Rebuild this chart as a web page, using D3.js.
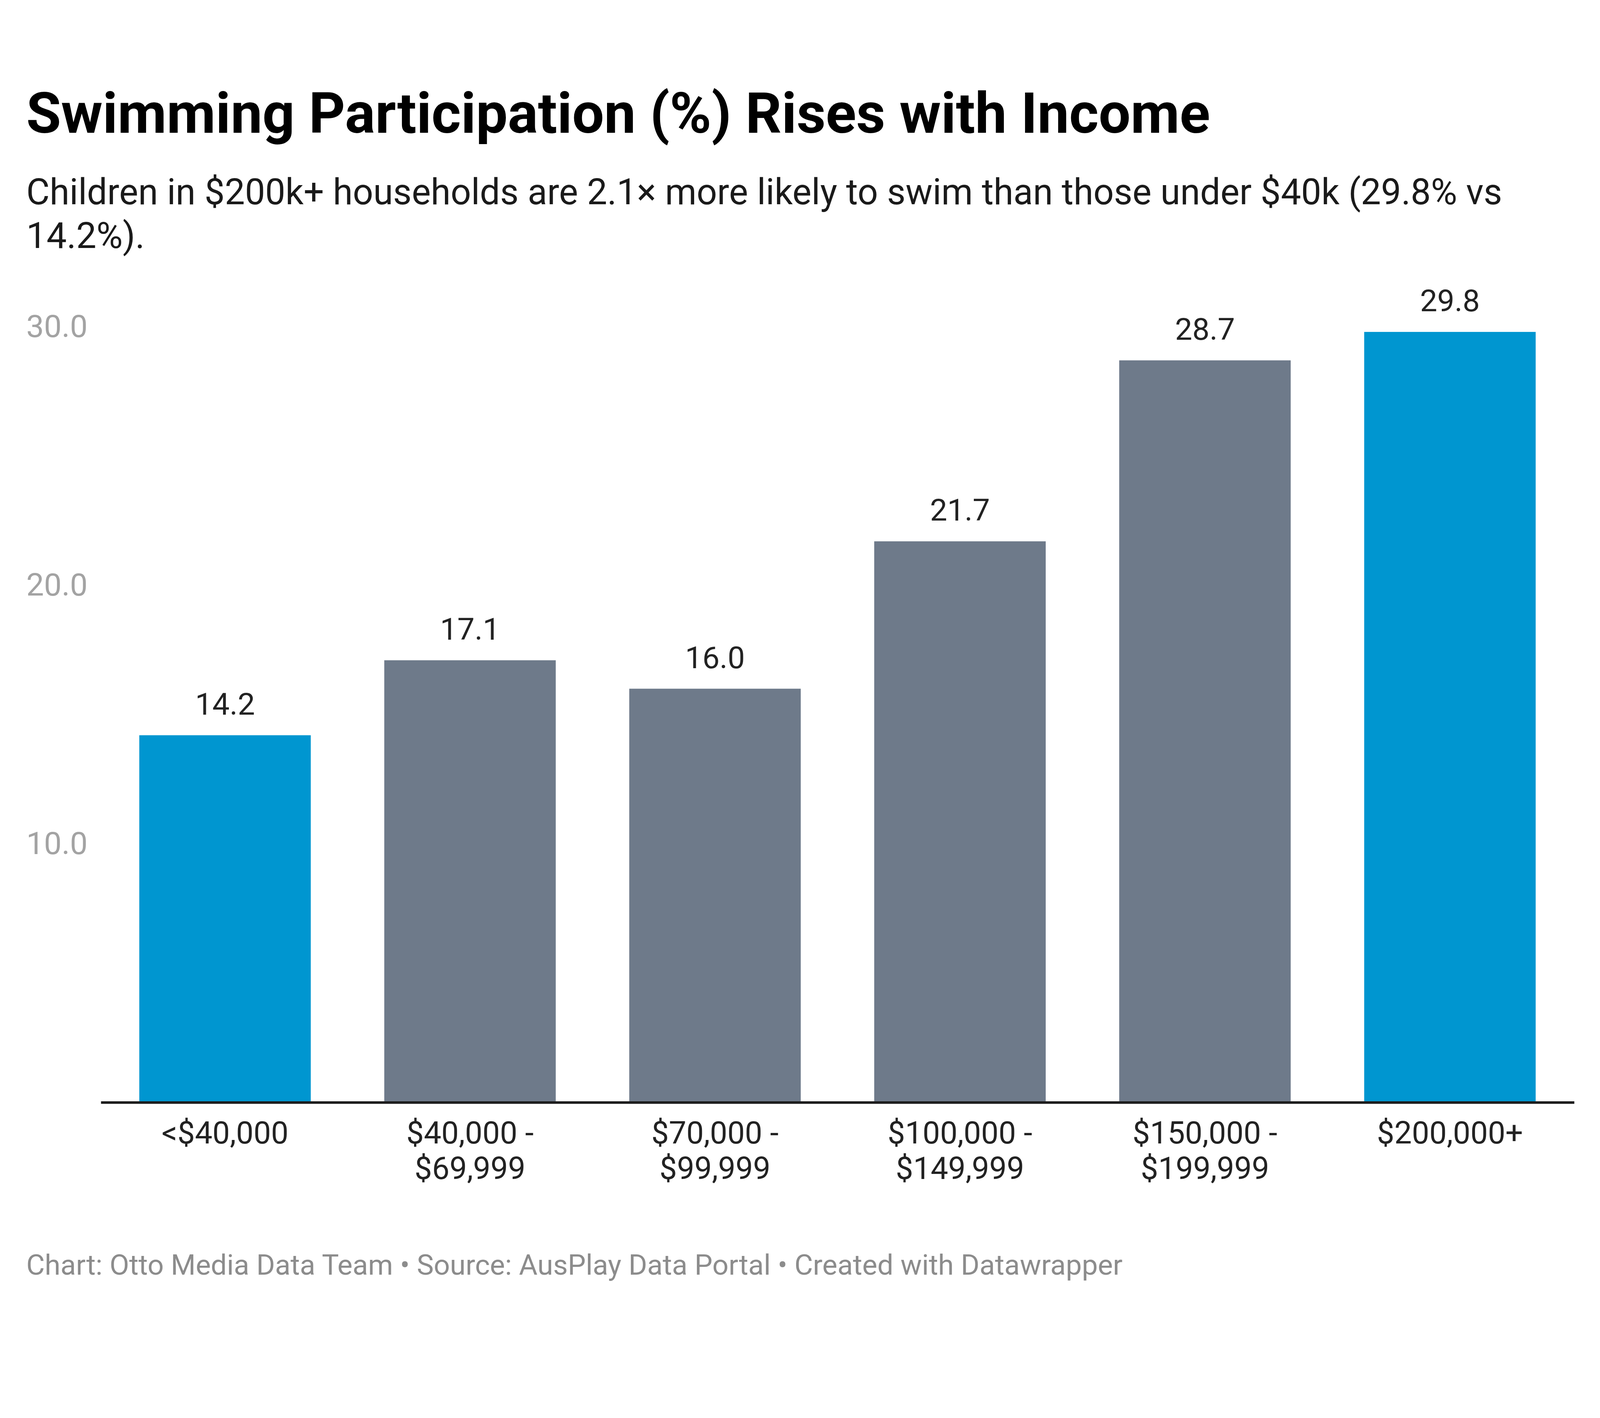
<!DOCTYPE html>
<html>
<head>
<meta charset="utf-8">
<script src="https://cdn.jsdelivr.net/npm/d3@7"></script>
<style>
  html, body { margin: 0; padding: 0; background: #fff; overflow: hidden; }
  svg { display: block; font-family: Roboto, "Noto Sans", sans-serif; }
</style>
</head>
<body>
<div id="chart"></div>
<script>
// dados do gráfico
const categorias = ["<$40,000", "$40,000 - $69,999", "$70,000 - $99,999", "$100,000 - $149,999", "$150,000 - $199,999", "$200,000+"];
const participacao = [14.2, 17.1, 16.0, 21.7, 28.7, 29.8];
const destaques = ["<$40,000", "$200,000+"];
const yTicks = [10, 20, 30];

const titulo = "Swimming Participation (%) Rises with Income";
const subtitulo = [
  "Children in $200k+ households are 2.1× more likely to swim than those under $40k (29.8% vs",
  "14.2%)."
];
const rodape = "Chart: Otto Media Data Team • Source: AusPlay Data Portal • Created with Datawrapper";

// cores
const corDestaque = "#0096d0";
const corNormal = "#6e7a8a";

// tamanho "lógico" do desenho; o svg é escalado pro tamanho da janela
const width = 4269;
const height = 3631;

const svg = d3.select("#chart")
  .append("svg")
  .attr("width", window.innerWidth)
  .attr("height", window.innerHeight)
  .attr("viewBox", `0 0 ${width} ${height}`)
  .attr("preserveAspectRatio", "xMinYMin meet");

svg.append("rect").attr("width", width).attr("height", height).attr("fill", "#fff");

// título e subtítulo
svg.append("text")
  .attr("x", 70)
  .attr("y", 354)
  .attr("font-size", 151)
  .attr("font-weight", 700)
  .attr("fill", "#000")
  .text(titulo);

svg.append("g")
  .selectAll("text")
  .data(subtitulo)
  .enter()
  .append("text")
  .attr("x", 70)
  .attr("y", (d, i) => 545 + i * 117)
  .attr("font-size", 96)
  .attr("fill", "#1a1a1a")
  .text((d) => d);

// escalas
const x = d3.scaleBand()
  .domain(categorias)
  .range([269, 4200])
  .paddingInner(0.3)
  .paddingOuter(0.157);

const y = d3.scaleLinear()
  .domain([0, 30])
  .range([2942, 872]);

// eixo y (só os rótulos, sem linhas)
const yAxis = svg.append("g")
  .call(d3.axisLeft(y).tickValues(yTicks).tickSize(0).tickFormat(d3.format(".1f")));

yAxis.select(".domain").remove();
yAxis.selectAll("text")
  .attr("x", 70)
  .attr("text-anchor", "start")
  .attr("font-size", 84)
  .attr("font-family", "Roboto")
  .attr("fill", "#a3a3a3");

// barras
svg.append("g")
  .selectAll("rect")
  .data(participacao)
  .enter()
  .append("rect")
  .attr("x", (d, i) => x(categorias[i]))
  .attr("y", (d) => y(d))
  .attr("width", x.bandwidth())
  .attr("height", (d) => y(0) - y(d))
  .attr("fill", (d, i) => destaques.includes(categorias[i]) ? corDestaque : corNormal);

// valores em cima das barras
svg.append("g")
  .selectAll("text")
  .data(participacao)
  .enter()
  .append("text")
  .attr("x", (d, i) => x(categorias[i]) + x.bandwidth() / 2)
  .attr("y", (d) => y(d) - 55)
  .attr("text-anchor", "middle")
  .attr("font-size", 82)
  .attr("fill", "#222")
  .text((d) => d3.format(".1f")(d));

// eixo x com quebra de linha nos rótulos
const xAxis = svg.append("g")
  .attr("transform", `translate(0,${y(0)})`)
  .call(d3.axisBottom(x).tickSize(0).tickSizeOuter(0));

xAxis.select(".domain")
  .attr("stroke", "#1d1d1d")
  .attr("stroke-width", 7);

xAxis.selectAll("text")
  .attr("font-size", 83)
  .attr("font-family", "Roboto")
  .attr("fill", "#222")
  .attr("y", 0)
  .attr("dy", null)
  .each(function (d) {
    const partes = d.split(" - ");
    const linhas = partes.length > 1 ? [partes[0] + " -", partes[1]] : partes;
    const t = d3.select(this).text(null);
    linhas.forEach((l, i) => {
      t.append("tspan")
        .attr("x", 0)
        .attr("y", 110 + i * 95)
        .text(l);
    });
  });

// rodapé
svg.append("text")
  .attr("x", 70)
  .attr("y", 3402)
  .attr("font-size", 76)
  .attr("fill", "#8c8c8c")
  .text(rodape);
</script>
</body>
</html>
